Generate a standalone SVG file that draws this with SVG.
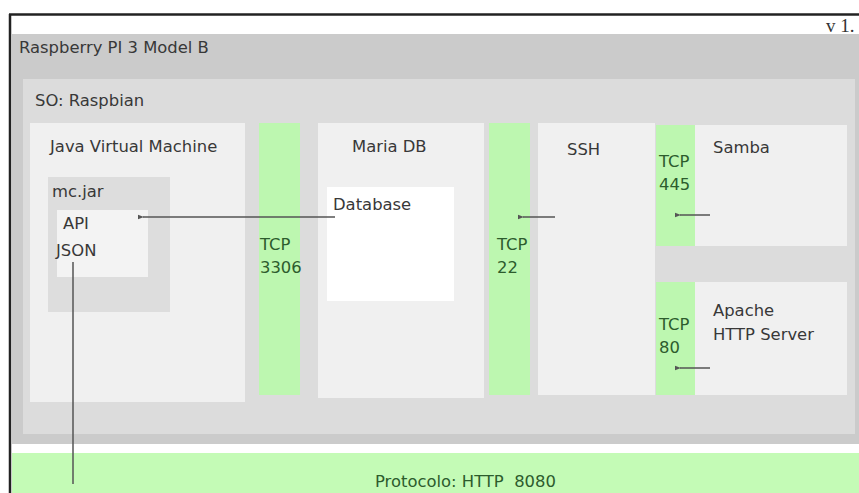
<svg xmlns="http://www.w3.org/2000/svg" width="859" height="493" viewBox="0 0 859 493">
<defs>
<style>
.t{font-family:"DejaVu Sans",sans-serif;font-size:16.4px;fill:#383838}
.g{font-family:"DejaVu Sans",sans-serif;font-size:16.4px;fill:#2d5c2d}
.tcp{fill:#bdf7b0}
.box{fill:#f0f0f0}
.ln{stroke:#555;stroke-width:1.5;fill:none}
</style>
<marker id="tip" viewBox="0 0 6 6" refX="1" refY="3" markerWidth="4" markerHeight="4" orient="auto-start-reverse">
<path d="M0,3 L6,0.8 L6,5.2 Z" fill="#555"/>
</marker>
</defs>
<rect x="0" y="0" width="859" height="493" fill="#ffffff"/>
<line x1="9" y1="14.5" x2="859" y2="14.5" stroke="#222" stroke-width="2.5"/>
<line x1="10" y1="14" x2="10" y2="493" stroke="#222" stroke-width="2.5"/>
<text x="826" y="32" style="font-family:'Liberation Serif',serif;font-size:19px;fill:#333">v 1.</text>
<g id="raspberry">
<rect x="12" y="34" width="847" height="410" fill="#cbcbcb"/>
<text class="t" x="19" y="53">Raspberry PI 3 Model B</text>
</g>
<g id="so">
<rect x="23" y="79" width="832" height="355" fill="#dcdcdc"/>
<text class="t" x="35" y="106">SO: Raspbian</text>
</g>
<g id="jvm">
<rect class="box" x="30" y="123" width="215" height="279"/>
<text class="t" x="50" y="152">Java Virtual Machine</text>
</g>
<g id="mcjar">
<rect x="48" y="177" width="122" height="135" fill="#dddddd"/>
<text class="t" x="52" y="197">mc.jar</text>
</g>
<g id="api">
<rect x="57" y="210" width="91" height="67" fill="#f3f3f3"/>
<text class="t" x="63" y="229">API</text>
<text class="t" x="56" y="256">JSON</text>
</g>
<g id="tcp3306">
<rect class="tcp" x="259" y="123" width="41" height="272"/>
<text class="g" x="260" y="250">TCP</text>
<text class="g" x="260" y="273">3306</text>
</g>
<g id="mariadb">
<rect class="box" x="318" y="123" width="166" height="275"/>
<text class="t" x="352" y="152">Maria DB</text>
</g>
<g id="database">
<rect x="327" y="187" width="127" height="114" fill="#ffffff"/>
<text class="t" x="333" y="210">Database</text>
</g>
<g id="tcp22">
<rect class="tcp" x="489" y="123" width="41" height="272"/>
<text class="g" x="497" y="250">TCP</text>
<text class="g" x="497" y="273">22</text>
</g>
<g id="ssh">
<rect class="box" x="538" y="123" width="117" height="272"/>
<text class="t" x="567" y="155">SSH</text>
</g>
<g id="tcp445">
<rect class="tcp" x="656" y="125" width="39" height="121"/>
<text class="g" x="659" y="167">TCP</text>
<text class="g" x="659" y="190">445</text>
</g>
<g id="samba">
<rect class="box" x="695" y="125" width="152" height="121"/>
<text class="t" x="713" y="153">Samba</text>
</g>
<g id="tcp80">
<rect class="tcp" x="656" y="282" width="39" height="113"/>
<text class="g" x="659" y="330">TCP</text>
<text class="g" x="659" y="353">80</text>
</g>
<g id="apache">
<rect class="box" x="695" y="282" width="152" height="113"/>
<text class="t" x="713" y="316">Apache</text>
<text class="t" x="713" y="340">HTTP Server</text>
</g>
<g id="protocolo">
<rect x="12" y="453" width="847" height="40" fill="#c4fbb6"/>
<text class="g" x="375" y="487" xml:space="preserve" style="white-space:pre">Protocolo: HTTP  8080</text>
</g>
<g id="connectors">
<line class="ln" x1="335" y1="217" x2="143" y2="217" marker-end="url(#tip)"/>
<line class="ln" x1="73" y1="262" x2="73" y2="484"/>
<line class="ln" x1="555" y1="217" x2="523" y2="217" marker-end="url(#tip)"/>
<line class="ln" x1="710" y1="215" x2="680" y2="215" marker-end="url(#tip)"/>
<line class="ln" x1="710" y1="368" x2="680" y2="368" marker-end="url(#tip)"/>
</g>
</svg>
